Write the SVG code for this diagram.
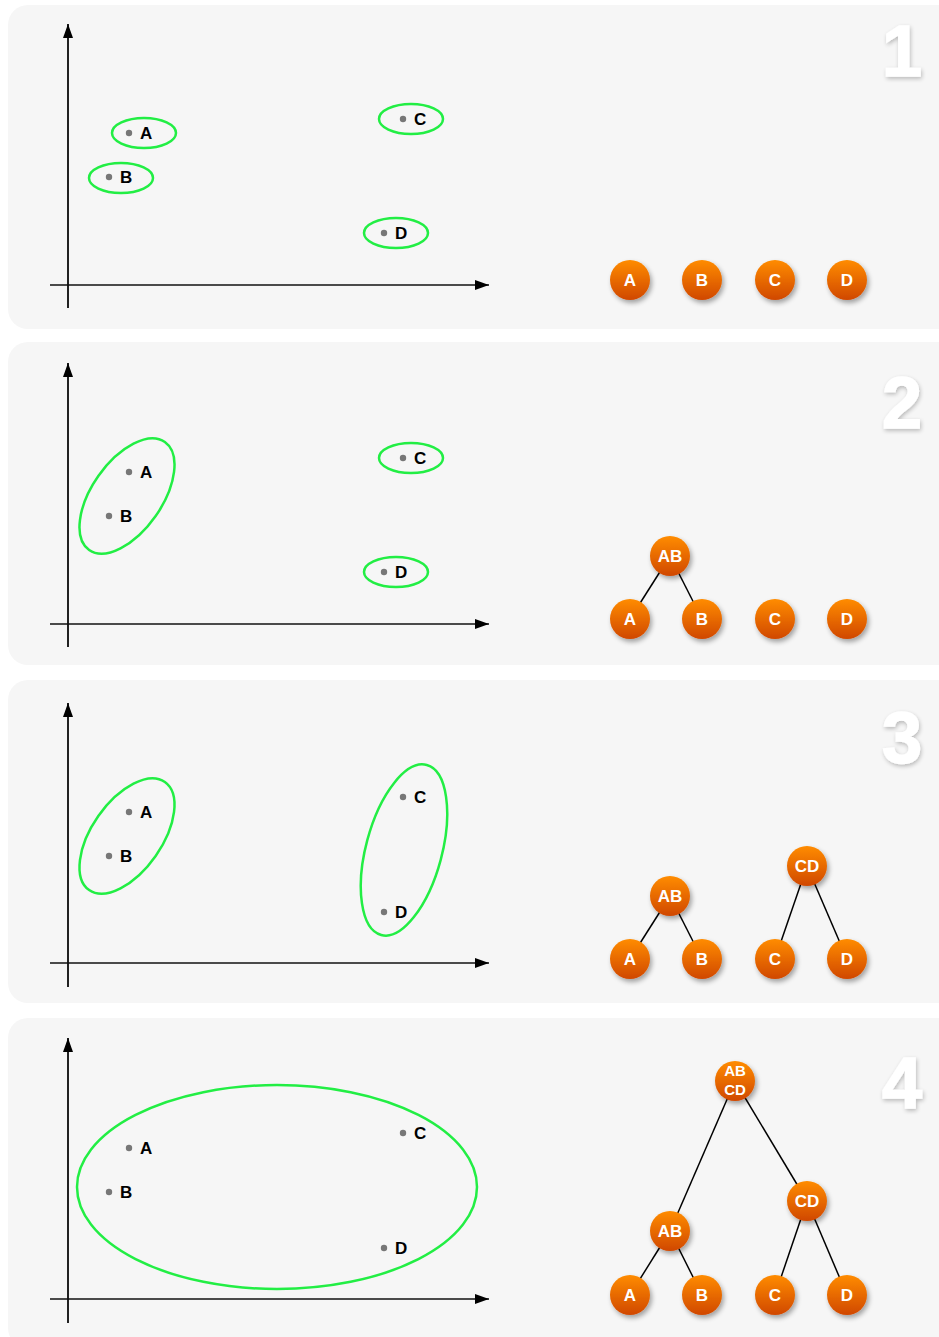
<svg xmlns="http://www.w3.org/2000/svg" width="939" height="1337" viewBox="0 0 939 1337">
<defs>
<linearGradient id="og" x1="0" y1="0" x2="0" y2="1">
<stop offset="0" stop-color="#ff8c00"/>
<stop offset="1" stop-color="#d04800"/>
</linearGradient>
<filter id="sh" x="-50%" y="-50%" width="200%" height="200%">
<feGaussianBlur in="SourceAlpha" stdDeviation="2.5"/>
<feOffset dx="2" dy="3" result="b"/>
<feComponentTransfer><feFuncA type="linear" slope="0.35"/></feComponentTransfer>
<feMerge><feMergeNode/><feMergeNode in="SourceGraphic"/></feMerge>
</filter>
<filter id="nsh" x="-50%" y="-50%" width="200%" height="200%">
<feGaussianBlur in="SourceAlpha" stdDeviation="2"/>
<feOffset dx="1" dy="2"/>
<feComponentTransfer><feFuncA type="linear" slope="0.25"/></feComponentTransfer>
<feMerge><feMergeNode/><feMergeNode in="SourceGraphic"/></feMerge>
</filter>
<marker id="ar" viewBox="0 0 14 10" refX="14" refY="5" markerWidth="14" markerHeight="10" markerUnits="userSpaceOnUse" orient="auto">
<path d="M0,0 L14,5 L0,10 Z" fill="#000"/>
</marker>
<style>
.panel{fill:#f6f6f6}
.ax{stroke:#222;stroke-width:2;fill:none}
.axh{stroke:#111;stroke-width:1.5;fill:none}
.ell{fill:none;stroke:#22ee44;stroke-width:2.5}
.dot{fill:#777}
.pl{font-family:"Liberation Sans",Arial,sans-serif;font-weight:bold;font-size:17px;fill:#000}
.node{fill:url(#og);filter:url(#sh)}
.nl{font-family:"Liberation Sans",Arial,sans-serif;font-weight:bold;font-size:17px;fill:#fff;text-anchor:middle}
.nl2{font-family:"Liberation Sans",Arial,sans-serif;font-weight:bold;font-size:15px;fill:#fff;text-anchor:middle}
.edge{stroke:#000;stroke-width:1.5}
.num{font-family:"Liberation Sans",Arial,sans-serif;font-weight:bold;font-size:72px;fill:#fff;stroke:#fff;stroke-width:1.5;text-anchor:middle;filter:url(#nsh)}
</style>
</defs>
<rect width="939" height="1337" fill="#fff"/>

<!-- panels -->
<rect class="panel" x="8" y="5" width="960" height="324" rx="20"/>
<rect class="panel" x="8" y="342" width="960" height="323" rx="20"/>
<rect class="panel" x="8" y="680" width="960" height="323" rx="20"/>
<rect class="panel" x="8" y="1018" width="960" height="330" rx="20"/>

<text class="num" x="902" y="76">1</text>
<text class="num" x="902" y="428">2</text>
<text class="num" x="902" y="763">3</text>
<text class="num" x="902" y="1108">4</text>

<!-- axes -->
<g id="axes">
<line class="ax" x1="68" y1="308" x2="68" y2="24" marker-end="url(#ar)"/>
<line class="axh" x1="50" y1="285" x2="489" y2="285" marker-end="url(#ar)"/>
<line class="ax" x1="68" y1="647" x2="68" y2="363" marker-end="url(#ar)"/>
<line class="axh" x1="50" y1="624" x2="489" y2="624" marker-end="url(#ar)"/>
<line class="ax" x1="68" y1="987" x2="68" y2="703" marker-end="url(#ar)"/>
<line class="axh" x1="50" y1="963" x2="489" y2="963" marker-end="url(#ar)"/>
<line class="ax" x1="68" y1="1323" x2="68" y2="1038" marker-end="url(#ar)"/>
<line class="axh" x1="50" y1="1299" x2="489" y2="1299" marker-end="url(#ar)"/>
</g>

<!-- clusters -->
<g id="clusters">
<ellipse class="ell" cx="144" cy="133" rx="32" ry="15"/>
<ellipse class="ell" cx="121" cy="178" rx="32" ry="15"/>
<ellipse class="ell" cx="411" cy="119" rx="32" ry="15"/>
<ellipse class="ell" cx="396" cy="233" rx="32" ry="15"/>
<ellipse class="ell" cx="127" cy="496" rx="66" ry="35" transform="rotate(-55 127 496)"/>
<ellipse class="ell" cx="411" cy="458" rx="32" ry="15"/>
<ellipse class="ell" cx="396" cy="572" rx="32" ry="15"/>
<ellipse class="ell" cx="127" cy="836" rx="66" ry="35" transform="rotate(-55 127 836)"/>
<ellipse class="ell" cx="404" cy="850" rx="38" ry="88" transform="rotate(15 404 850)"/>
<ellipse class="ell" cx="277" cy="1187" rx="200" ry="102"/>
</g>

<!-- points -->
<g id="points">
<circle class="dot" cx="129" cy="133" r="3.2"/><text class="pl" x="140" y="139">A</text>
<circle class="dot" cx="109" cy="177" r="3.2"/><text class="pl" x="120" y="183">B</text>
<circle class="dot" cx="403" cy="119" r="3.2"/><text class="pl" x="414" y="125">C</text>
<circle class="dot" cx="384" cy="233" r="3.2"/><text class="pl" x="395" y="239">D</text>

<circle class="dot" cx="129" cy="472" r="3.2"/><text class="pl" x="140" y="478">A</text>
<circle class="dot" cx="109" cy="516" r="3.2"/><text class="pl" x="120" y="522">B</text>
<circle class="dot" cx="403" cy="458" r="3.2"/><text class="pl" x="414" y="464">C</text>
<circle class="dot" cx="384" cy="572" r="3.2"/><text class="pl" x="395" y="578">D</text>

<circle class="dot" cx="129" cy="812" r="3.2"/><text class="pl" x="140" y="818">A</text>
<circle class="dot" cx="109" cy="856" r="3.2"/><text class="pl" x="120" y="862">B</text>
<circle class="dot" cx="403" cy="797" r="3.2"/><text class="pl" x="414" y="803">C</text>
<circle class="dot" cx="384" cy="912" r="3.2"/><text class="pl" x="395" y="918">D</text>

<circle class="dot" cx="129" cy="1148" r="3.2"/><text class="pl" x="140" y="1154">A</text>
<circle class="dot" cx="109" cy="1192" r="3.2"/><text class="pl" x="120" y="1198">B</text>
<circle class="dot" cx="403" cy="1133" r="3.2"/><text class="pl" x="414" y="1139">C</text>
<circle class="dot" cx="384" cy="1248" r="3.2"/><text class="pl" x="395" y="1254">D</text>
</g>

<!-- connectors -->
<g id="connectors">
<line class="edge" x1="670" y1="556" x2="630" y2="619"/>
<line class="edge" x1="670" y1="556" x2="702" y2="619"/>
<line class="edge" x1="670" y1="896" x2="630" y2="959"/>
<line class="edge" x1="670" y1="896" x2="702" y2="959"/>
<line class="edge" x1="807" y1="866" x2="775" y2="959"/>
<line class="edge" x1="807" y1="866" x2="847" y2="959"/>
<line class="edge" x1="735" y1="1081" x2="670" y2="1231"/>
<line class="edge" x1="735" y1="1081" x2="807" y2="1201"/>
<line class="edge" x1="670" y1="1231" x2="630" y2="1295"/>
<line class="edge" x1="670" y1="1231" x2="702" y2="1295"/>
<line class="edge" x1="807" y1="1201" x2="775" y2="1295"/>
<line class="edge" x1="807" y1="1201" x2="847" y2="1295"/>
</g>

<!-- panel 1 nodes -->
<g id="p1-A"><circle class="node" cx="630" cy="280" r="20"/><text class="nl" x="630" y="286">A</text></g>
<g id="p1-B"><circle class="node" cx="702" cy="280" r="20"/><text class="nl" x="702" y="286">B</text></g>
<g id="p1-C"><circle class="node" cx="775" cy="280" r="20"/><text class="nl" x="775" y="286">C</text></g>
<g id="p1-D"><circle class="node" cx="847" cy="280" r="20"/><text class="nl" x="847" y="286">D</text></g>

<!-- panel 2 nodes -->
<g id="p2-AB"><circle class="node" cx="670" cy="556" r="20"/><text class="nl" x="670" y="562">AB</text></g>
<g id="p2-A"><circle class="node" cx="630" cy="619" r="20"/><text class="nl" x="630" y="625">A</text></g>
<g id="p2-B"><circle class="node" cx="702" cy="619" r="20"/><text class="nl" x="702" y="625">B</text></g>
<g id="p2-C"><circle class="node" cx="775" cy="619" r="20"/><text class="nl" x="775" y="625">C</text></g>
<g id="p2-D"><circle class="node" cx="847" cy="619" r="20"/><text class="nl" x="847" y="625">D</text></g>

<!-- panel 3 nodes -->
<g id="p3-AB"><circle class="node" cx="670" cy="896" r="20"/><text class="nl" x="670" y="902">AB</text></g>
<g id="p3-CD"><circle class="node" cx="807" cy="866" r="20"/><text class="nl" x="807" y="872">CD</text></g>
<g id="p3-A"><circle class="node" cx="630" cy="959" r="20"/><text class="nl" x="630" y="965">A</text></g>
<g id="p3-B"><circle class="node" cx="702" cy="959" r="20"/><text class="nl" x="702" y="965">B</text></g>
<g id="p3-C"><circle class="node" cx="775" cy="959" r="20"/><text class="nl" x="775" y="965">C</text></g>
<g id="p3-D"><circle class="node" cx="847" cy="959" r="20"/><text class="nl" x="847" y="965">D</text></g>

<!-- panel 4 nodes -->
<g id="p4-ABCD"><circle class="node" cx="735" cy="1081" r="20"/><text class="nl2" x="735" y="1076">AB</text><text class="nl2" x="735" y="1095">CD</text></g>
<g id="p4-AB"><circle class="node" cx="670" cy="1231" r="20"/><text class="nl" x="670" y="1237">AB</text></g>
<g id="p4-CD"><circle class="node" cx="807" cy="1201" r="20"/><text class="nl" x="807" y="1207">CD</text></g>
<g id="p4-A"><circle class="node" cx="630" cy="1295" r="20"/><text class="nl" x="630" y="1301">A</text></g>
<g id="p4-B"><circle class="node" cx="702" cy="1295" r="20"/><text class="nl" x="702" y="1301">B</text></g>
<g id="p4-C"><circle class="node" cx="775" cy="1295" r="20"/><text class="nl" x="775" y="1301">C</text></g>
<g id="p4-D"><circle class="node" cx="847" cy="1295" r="20"/><text class="nl" x="847" y="1301">D</text></g>
</svg>
